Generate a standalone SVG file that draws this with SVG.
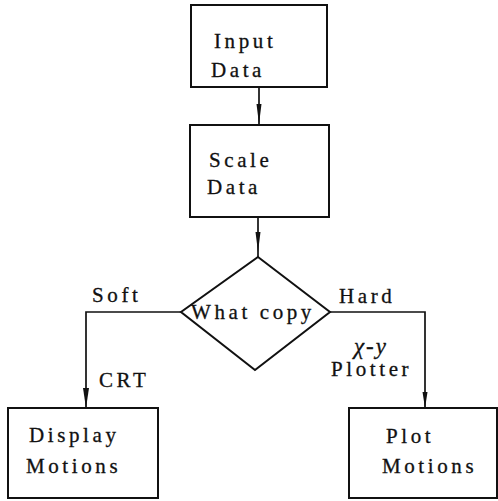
<svg xmlns="http://www.w3.org/2000/svg" width="498" height="501" viewBox="0 0 498 501">
  <style>
    .box { fill: #ffffff; stroke: #111111; stroke-width: 2; }
    .wire { fill: none; stroke: #111111; stroke-width: 1.7; }
    .lbl { font-family: "Liberation Serif", "Times New Roman", serif; font-size: 21px; fill: #111111; stroke: #111111; stroke-width: 0.3; letter-spacing: 3.6px; }
    .math { font-family: "Liberation Serif", "Times New Roman", serif; font-size: 23px; font-style: italic; fill: #111111; stroke: #111111; stroke-width: 0.3; letter-spacing: 2px; }
  </style>
  <rect width="498" height="501" fill="#ffffff"/>

  <g id="connectors">
    <path class="wire" d="M259,87 V124"/>
    <path d="M256.5,104 L261.5,104 L259,124 Z" fill="#111111"/>
    <path class="wire" d="M258,217 V257"/>
    <path d="M255.5,232 L260.5,232 L258,252 Z" fill="#111111"/>
    <path class="wire" d="M181,312 H86 V408"/>
    <path d="M83,388 L89,388 L86,408 Z" fill="#111111"/>
    <path class="wire" d="M330,312 H425 V408"/>
    <path d="M422.5,392 L427.5,392 L425,408 Z" fill="#111111"/>
  </g>

  <g id="input-data">
    <rect class="box" x="191" y="5" width="136" height="82"/>
    <text class="lbl" x="214" y="48">Input</text>
    <text class="lbl" x="211" y="77">Data</text>
  </g>

  <g id="scale-data">
    <rect class="box" x="190" y="125" width="139" height="92"/>
    <text class="lbl" x="209" y="167">Scale</text>
    <text class="lbl" x="207" y="194">Data</text>
  </g>

  <g id="what-copy">
    <polygon class="box" points="258,257 330,312 255,370 181,312"/>
    <text class="lbl" x="191" y="319">What copy</text>
  </g>

  <g id="display-motions">
    <rect class="box" x="8" y="408" width="150" height="90"/>
    <text class="lbl" x="29" y="442">Display</text>
    <text class="lbl" x="26" y="473">Motions</text>
  </g>

  <g id="plot-motions">
    <rect class="box" x="349" y="408" width="148" height="90"/>
    <text class="lbl" x="386" y="443">Plot</text>
    <text class="lbl" x="382" y="473">Motions</text>
  </g>

  <g id="edge-labels">
    <text class="lbl" x="92" y="302">Soft</text>
    <text class="lbl" x="99" y="387">CRT</text>
    <text class="lbl" x="339" y="303">Hard</text>
    <text class="math" x="354" y="354">χ-y</text>
    <text class="lbl" x="331" y="376">Plotter</text>
  </g>
</svg>
